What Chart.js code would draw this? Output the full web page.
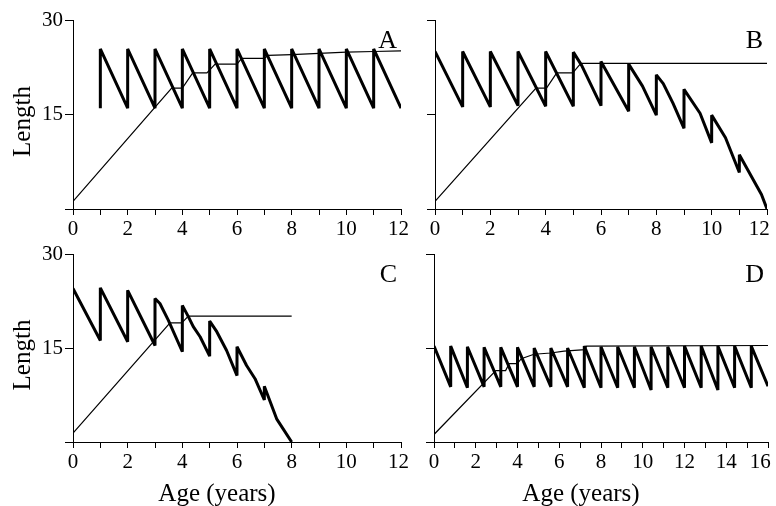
<!DOCTYPE html>
<html>
<head>
<meta charset="utf-8">
<script src="https://cdn.jsdelivr.net/npm/chart.js@4.4.1/dist/chart.umd.min.js"></script>
<style>
  html, body { margin: 0; padding: 0; background: #fff; overflow: hidden; }
  #wrap { position: relative; width: 776px; height: 506px; }
  canvas { position: absolute; }
</style>
</head>
<body>
<div id="wrap">
  <canvas id="panelA" width="420" height="260" style="left:0;top:0"></canvas>
  <canvas id="panelB" width="366" height="260" style="left:410px;top:0"></canvas>
  <canvas id="panelC" width="420" height="266" style="left:0;top:240px"></canvas>
  <canvas id="panelD" width="366" height="266" style="left:410px;top:240px"></canvas>
</div>
<script>
// values (age in years, length)
const growthA_age = [0, 3.61, 4.0, 4.38, 4.9, 5.2, 6.0, 6.17, 7.0, 7.14, 8.0, 9.0, 10.0, 11.0, 12.0]
const growthA_len = [1.2, 19.2, 19.2, 21.6, 21.6, 23.0, 23.0, 23.9, 23.9, 24.4, 24.5, 24.7, 24.9, 25.0, 25.1]
const sawA_age = [1, 1, 2, 2, 3, 3, 4, 4, 5, 5, 6, 6, 7, 7, 8, 8, 9, 9, 10, 10, 11, 11, 12]
const sawA_len = [16.0, 25.4, 16.0, 25.4, 16.0, 25.4, 16.0, 25.4, 16.0, 25.4, 16.0, 25.4, 16.0, 25.4, 16.0, 25.4, 16.0, 25.4, 16.0, 25.4, 16.0, 25.4, 16.0]

const growthB_age = [0, 3.65, 4.03, 4.4, 4.98, 5.27, 12]
const growthB_len = [1.2, 19.2, 19.2, 21.6, 21.6, 23.1, 23.1]
const sawB_age = [0, 1, 1, 2, 2, 3, 3, 4, 4, 5, 5, 5.3, 6, 6, 7, 7, 7.5, 8, 8, 8.25, 8.6, 9, 9, 9.58, 10, 10, 10.5, 11, 11, 11.8, 12]
const sawB_len = [25.0, 16.2, 25.0, 16.2, 25.0, 16.4, 25.0, 16.3, 25.0, 16.3, 24.9, 22.8, 16.4, 23.4, 15.5, 23.0, 19.5, 14.9, 21.3, 19.9, 16.8, 12.8, 19.0, 15.2, 10.5, 14.9, 11.3, 5.8, 8.6, 2.3, 0]

const growthC_age = [0, 3.55, 3.98, 4.22, 8]
const growthC_len = [1.4, 19.0, 19.0, 20.1, 20.1]
const sawC_age = [0, 1, 1, 2, 2, 3, 3, 3.18, 3.49, 4, 4, 4.22, 4.4, 4.65, 5, 5, 5.26, 5.62, 6, 6, 6.35, 6.66, 7, 7, 7.45, 8]
const sawC_len = [24.5, 16.2, 24.6, 16.0, 24.2, 15.4, 22.9, 22.1, 19.4, 14.4, 21.8, 20.0, 18.4, 16.8, 13.7, 19.3, 17.6, 14.6, 10.6, 15.2, 12.2, 10.1, 6.7, 8.9, 3.7, 0]

const growthD_age = [0, 2.96, 3.43, 3.6, 3.99, 4.18, 4.79, 5.59, 6.23, 7.23, 7.31, 16]
const growthD_len = [1.2, 11.4, 11.4, 12.5, 12.5, 13.3, 14.0, 14.2, 14.5, 14.75, 15.3, 15.4]
const sawD_age = [0, 0.8, 0.8, 1.6, 1.6, 2.4, 2.4, 3.2, 3.2, 4, 4, 4.8, 4.8, 5.6, 5.6, 6.4, 6.4, 7.2, 7.2, 8, 8, 8.8, 8.8, 9.6, 9.6, 10.4, 10.4, 11.2, 11.2, 12, 12, 12.8, 12.8, 13.6, 13.6, 14.4, 14.4, 15.2, 15.2, 16]
const sawD_len = [15.3, 8.8, 15.3, 8.65, 15.2, 8.8, 15.1, 8.8, 15.1, 8.8, 15.1, 8.8, 15.0, 8.8, 15.0, 8.8, 15.0, 8.65, 15.3, 8.65, 15.2, 8.65, 15.2, 8.65, 15.2, 8.3, 15.2, 8.65, 15.2, 8.65, 15.3, 8.65, 15.3, 8.3, 15.3, 8.65, 15.3, 8.65, 15.3, 8.9]

// axis ticks
const lengthLabels = [15, 30]
const ageLabels12 = [0, 2, 4, 6, 8, 10, 12]
const ageLabels16 = [0, 2, 4, 6, 8, 10, 12, 14, 16]

const serif = "'Liberation Serif', 'DejaVu Serif', serif"

const toPoints = (xs, ys) => xs.map((x, i) => ({ x, y: ys[i] }))

// panel letter + shared axis titles
const panelText = {
  id: "panelText",
  afterDraw(chart, args, opts) {
    const { ctx, chartArea } = chart
    ctx.save()
    ctx.fillStyle = "#000"
    ctx.font = `26px ${serif}`
    ctx.textAlign = "right"
    ctx.textBaseline = "alphabetic"
    ctx.fillText(opts.letter, chartArea.right - 4, chartArea.top + 28)
    ctx.font = `25px ${serif}`
    ctx.textAlign = "center"
    if (opts.yTitle) {
      ctx.save()
      ctx.translate(30, (chartArea.top + chartArea.bottom) / 2 + 7)
      ctx.rotate(-Math.PI / 2)
      ctx.fillText(opts.yTitle, 0, 0)
      ctx.restore()
    }
    if (opts.xTitle) {
      ctx.fillText(opts.xTitle, (chartArea.left + chartArea.right) / 2 - 20, chart.height - 5)
    }
    ctx.restore()
  },
}
Chart.register(panelText)

function makePanel(id, cfg) {
  const ctx = document.getElementById(id).getContext("2d")
  return new Chart(ctx, {
    type: "line",
    data: {
      datasets: [
        {
          data: toPoints(cfg.sawAge, cfg.sawLen),
          borderColor: "#000",
          borderWidth: 3,
          borderJoinStyle: "bevel",
          pointRadius: 0,
          fill: false,
        },
        {
          data: toPoints(cfg.growAge, cfg.growLen),
          borderColor: "#000",
          borderWidth: 1.2,
          pointRadius: 0,
          fill: false,
        },
      ],
    },
    options: {
      responsive: false,
      devicePixelRatio: 1,
      animation: false,
      layout: { padding: { top: cfg.padTop, right: cfg.padRight, left: 0, bottom: 0 } },
      plugins: {
        legend: { display: false },
        tooltip: { enabled: false },
        panelText: { letter: cfg.letter, yTitle: cfg.yTitle, xTitle: cfg.xTitle },
      },
      scales: {
        x: {
          type: "linear",
          min: 0,
          max: cfg.xMax,
          border: { display: true, color: "#000", width: 1 },
          grid: { drawOnChartArea: false, drawTicks: true, tickLength: 6, color: "#000" },
          ticks: {
            stepSize: 1,
            autoSkip: false,
            maxRotation: 0,
            padding: 2,
            color: "#000",
            font: { family: serif, size: 21 },
            // last label sits a little inside the axis end, as in the source figure
            callback: (v) => {
              if (!cfg.ageLabels.includes(v)) return ""
              return v === cfg.xMax ? String(v) + cfg.endPad : String(v)
            },
          },
          afterFit: (s) => {
            s.height = cfg.xHeight
            s.paddingLeft = 0
            s.paddingRight = 0
          },
        },
        y: {
          min: 0,
          max: 30,
          border: { display: true, color: "#000", width: 1 },
          grid: { drawOnChartArea: false, drawTicks: true, tickLength: 8, color: "#000" },
          ticks: {
            stepSize: 15,
            padding: 2,
            color: "#000",
            font: { family: serif, size: 21 },
            callback: (v) => (cfg.showY && lengthLabels.includes(v) ? String(v) : ""),
          },
          afterFit: (s) => {
            s.width = cfg.yWidth
            s.paddingTop = 0
            s.paddingBottom = 0
          },
        },
      },
    },
  })
}

makePanel("panelA", {
  letter: "A", yTitle: "Length", xTitle: "", showY: true, endPad: " ",
  sawAge: sawA_age, sawLen: sawA_len, growAge: growthA_age, growLen: growthA_len,
  xMax: 12, ageLabels: ageLabels12, padTop: 20, padRight: 19, yWidth: 73, xHeight: 51,
})
makePanel("panelB", {
  letter: "B", yTitle: "", xTitle: "", showY: false, endPad: "\u2002 ",
  sawAge: sawB_age, sawLen: sawB_len, growAge: growthB_age, growLen: growthB_len,
  xMax: 12, ageLabels: ageLabels12, padTop: 20, padRight: 9, yWidth: 25, xHeight: 51,
})
makePanel("panelC", {
  letter: "C", yTitle: "Length", xTitle: "Age (years)", showY: true, endPad: " ",
  sawAge: sawC_age, sawLen: sawC_len, growAge: growthC_age, growLen: growthC_len,
  xMax: 12, ageLabels: ageLabels12, padTop: 14, padRight: 19, yWidth: 73, xHeight: 64,
})
makePanel("panelD", {
  letter: "D", yTitle: "", xTitle: "Age (years)", showY: false, endPad: "\u2002 ",
  sawAge: sawD_age, sawLen: sawD_len, growAge: growthD_age, growLen: growthD_len,
  xMax: 16, ageLabels: ageLabels16, padTop: 14, padRight: 8, yWidth: 24, xHeight: 64,
})
</script>
</body>
</html>
